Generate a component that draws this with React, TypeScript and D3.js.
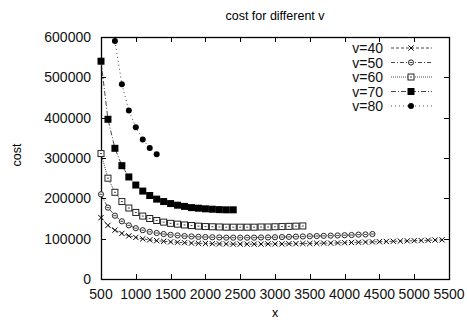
import React, { useEffect, useRef } from 'react';
import * as d3 from 'd3';

// x values run from 500 upwards in steps of 100 for every series
const xStart = 500;
const xStep = 100;

const cost40 = [
  152000, 133000, 121000, 113000, 107000, 103000, 99500, 97000, 95000, 93500,
  92000, 91000, 90000, 89000, 88500, 88000, 87500, 87000, 87000, 86500,
  86500, 86500, 86500, 86500, 87000, 87000, 87000, 87500, 87500, 88000,
  88000, 88500, 89000, 89000, 89500, 90000, 90500, 91000, 91500, 92000,
  92500, 93000, 93500, 94000, 94500, 95000, 95500, 96000, 96500, 97000,
];
const cost50 = [
  210000, 177000, 157000, 143000, 133000, 126000, 121000, 117000, 114000, 111500,
  109500, 108000, 106500, 105500, 104500, 104000, 103500, 103000, 102500, 102500,
  102500, 102500, 102500, 103000, 103000, 103500, 104000, 104500, 105000, 105500,
  106000, 106500, 107000, 107500, 108000, 108500, 109000, 110000, 110500, 111500,
];
const cost60 = [
  311000, 250000, 215000, 192000, 176000, 165000, 156000, 150000, 145000, 141000,
  138000, 136000, 134000, 132500, 131000, 130000, 129500, 129000, 128500, 128500,
  128500, 128500, 128500, 129000, 129000, 129500, 130000, 130500, 131000, 131500,
];
const cost70 = [
  540000, 396000, 324000, 281000, 253000, 233000, 218000, 207000, 198000, 192000,
  187000, 183000, 180000, 177000, 175500, 174000, 173000, 172000, 171500, 171500,
];
// v=80 starts at x=700 (500 and 600 are above the plot)
const cost80 = [590000, 483000, 418000, 376000, 346000, 325000, 309000];

const seriesNames = ['v=40', 'v=50', 'v=60', 'v=70', 'v=80'];
const seriesValues = [cost40, cost50, cost60, cost70, cost80];
const seriesOffsets = [0, 0, 0, 0, 2];

const xTicks = [500, 1000, 1500, 2000, 2500, 3000, 3500, 4000, 4500, 5000, 5500];
const yTicks = [0, 100000, 200000, 300000, 400000, 500000, 600000];

const dashes = ['3,2', '4,2,1,2', '1,1', '5,2,1,2', '1,3'];
const font = '"Liberation Sans", Arial, Helvetica, sans-serif';

export default function App() {
  const svgRef = useRef<SVGSVGElement>(null);

  useEffect(() => {
    if (!svgRef.current) return;
    const root = d3.select(svgRef.current);
    root.selectAll('*').remove();

    const width = 467;
    const height = 320;
    const plot = { left: 101, right: 449, top: 37, bottom: 279 };

    const x = d3.scaleLinear().domain([500, 5500]).range([plot.left, plot.right]);
    const y = d3.scaleLinear().domain([0, 600000]).range([plot.bottom, plot.top]);

    root.attr('width', width).attr('height', height);
    const svg = root.append('g');

    // title
    svg
      .append('text')
      .attr('x', 275)
      .attr('y', 20)
      .attr('text-anchor', 'middle')
      .attr('font-family', font)
      .attr('font-size', '12.5px')
      .text('cost for different v');

    // inward ticks on every side
    const tickLen = 5;
    const tickG = svg.append('g').attr('stroke', '#000').attr('stroke-width', 1);
    xTicks.forEach(t => {
      const px = Math.round(x(t)) + 0.5;
      tickG.append('line').attr('x1', px).attr('x2', px).attr('y1', plot.bottom).attr('y2', plot.bottom - tickLen);
      tickG.append('line').attr('x1', px).attr('x2', px).attr('y1', plot.top).attr('y2', plot.top + tickLen);
    });
    yTicks.forEach(t => {
      const py = Math.round(y(t)) + 0.5;
      tickG.append('line').attr('x1', plot.left).attr('x2', plot.left + tickLen).attr('y1', py).attr('y2', py);
      tickG.append('line').attr('x1', plot.right).attr('x2', plot.right - tickLen).attr('y1', py).attr('y2', py);
    });

    // tick labels
    svg
      .append('g')
      .selectAll('text')
      .data(xTicks)
      .enter()
      .append('text')
      .attr('x', d => x(d))
      .attr('y', 299)
      .attr('text-anchor', 'middle')
      .attr('font-family', font)
      .attr('font-size', '14px')
      .attr('fill', '#111')
      .text(d => String(d));

    svg
      .append('g')
      .selectAll('text')
      .data(yTicks)
      .enter()
      .append('text')
      .attr('x', 91)
      .attr('y', d => y(d) + 5)
      .attr('text-anchor', 'end')
      .attr('font-family', font)
      .attr('font-size', '14px')
      .attr('fill', '#111')
      .text(d => String(d));

    // axis titles
    svg
      .append('text')
      .attr('x', 275)
      .attr('y', 317)
      .attr('text-anchor', 'middle')
      .attr('font-family', font)
      .attr('font-size', '12.5px')
      .text('x');

    svg
      .append('text')
      .attr('transform', 'translate(21, 155) rotate(-90)')
      .attr('text-anchor', 'middle')
      .attr('font-family', font)
      .attr('font-size', '12.5px')
      .text('cost');

    // frame
    svg
      .append('rect')
      .attr('x', plot.left + 0.5)
      .attr('y', plot.top + 0.5)
      .attr('width', plot.right - plot.left)
      .attr('height', plot.bottom - plot.top)
      .attr('fill', 'none')
      .attr('stroke', '#000')
      .attr('stroke-width', 1.3);

    const drawMarker = (g: d3.Selection<SVGGElement, unknown, null, undefined>, i: number, cx: number, cy: number) => {
      if (i === 0) {
        const r = 2.6;
        g.append('path')
          .attr('d', `M${cx - r},${cy - r}L${cx + r},${cy + r}M${cx - r},${cy + r}L${cx + r},${cy - r}`)
          .attr('stroke', '#000')
          .attr('stroke-width', 1);
      } else if (i === 1) {
        g.append('circle').attr('cx', cx).attr('cy', cy).attr('r', 2.6).attr('fill', '#fff').attr('stroke', '#222').attr('stroke-width', 1);
        g.append('line').attr('x1', cx - 1.5).attr('x2', cx + 1.5).attr('y1', cy).attr('y2', cy).attr('stroke', '#444').attr('stroke-width', 1);
      } else if (i === 2) {
        g.append('rect').attr('x', cx - 3).attr('y', cy - 3).attr('width', 6).attr('height', 6).attr('fill', '#fff').attr('stroke', '#222').attr('stroke-width', 1);
        g.append('rect').attr('x', cx - 1).attr('y', cy - 0.5).attr('width', 2).attr('height', 1).attr('fill', '#444');
      } else if (i === 3) {
        g.append('rect').attr('x', cx - 3.5).attr('y', cy - 3.5).attr('width', 7).attr('height', 7).attr('fill', '#000');
      } else {
        g.append('circle').attr('cx', cx).attr('cy', cy).attr('r', 3).attr('fill', '#000');
      }
    };

    const line = d3
      .line<[number, number]>()
      .x(d => x(d[0]))
      .y(d => y(d[1]));

    seriesValues.forEach((vals, i) => {
      const pts: [number, number][] = vals.map((v, k) => [xStart + (k + seriesOffsets[i]) * xStep, v]);
      svg
        .append('path')
        .attr('d', line(pts))
        .attr('fill', 'none')
        .attr('stroke', '#333')
        .attr('stroke-width', 0.9)
        .attr('stroke-dasharray', dashes[i]);
      const g = svg.append('g');
      pts.forEach(p => drawMarker(g, i, x(p[0]), y(p[1])));
    });

    // legend
    const legendTop = 48;
    const legendGap = 14.5;
    seriesNames.forEach((name, i) => {
      const ly = legendTop + i * legendGap;
      svg
        .append('text')
        .attr('x', 383)
        .attr('y', ly + 5)
        .attr('text-anchor', 'end')
        .attr('font-family', font)
        .attr('font-size', '14px')
        .attr('fill', '#111')
        .text(name);
      svg
        .append('line')
        .attr('x1', 391)
        .attr('x2', 432)
        .attr('y1', ly)
        .attr('y2', ly)
        .attr('stroke', '#333')
        .attr('stroke-width', 0.9)
        .attr('stroke-dasharray', dashes[i]);
      const g = svg.append('g');
      drawMarker(g, i, 411, ly);
    });
  }, []);

  return (
    <div style={{ position: 'absolute', left: 0, top: 0 }}>
      <svg ref={svgRef}></svg>
    </div>
  );
}
